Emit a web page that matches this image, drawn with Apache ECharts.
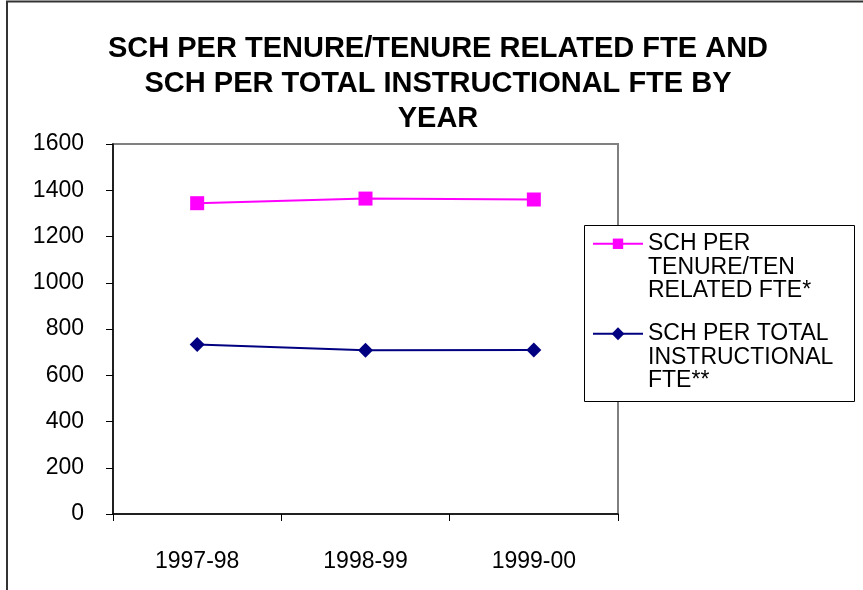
<!DOCTYPE html>
<html>
<head>
<meta charset="utf-8">
<script src="https://cdn.jsdelivr.net/npm/echarts@6/dist/echarts.min.js"></script>
<style>
html, body { margin: 0; padding: 0; background: #fff; }
#chart { width: 863px; height: 590px; }
</style>
</head>
<body>
<div id="chart"></div>
<script>
var years = ['1997-98', '1998-99', '1999-00'];
var tenureName = 'SCH PER\nTENURE/TEN\nRELATED FTE*';
var tenureValues = [1344, 1364, 1360];
var totalName = 'SCH PER TOTAL\nINSTRUCTIONAL\nFTE**';
var totalValues = [733, 708, 709];
var yTicks = { min: 0, max: 1600, interval: 200 };

var chartDom = document.getElementById('chart');
var myChart = echarts.init(chartDom);
var option;

var font = '"Liberation Sans", Arial, sans-serif';
var legendText = {
    fontFamily: font,
    fontSize: 23,
    lineHeight: 23.5,
    color: '#000'
};
// two blank lines on top so the icon lines up with the first text line
var legendFormatter = function (name) {
    return '\n\n' + name;
};

option = {
    animation: false,
    title: {
        text: 'SCH PER TENURE/TENURE RELATED FTE AND\nSCH PER TOTAL INSTRUCTIONAL FTE BY\nYEAR',
        left: 438,
        top: 31,
        padding: 0,
        textAlign: 'center',
        textStyle: {
            fontFamily: font,
            fontSize: 29,
            fontWeight: 'bold',
            lineHeight: 35,
            color: '#000'
        }
    },
    graphic: [
        {
            type: 'polyline',
            shape: { points: [[7, 590], [7, 1.5], [863, 1.5]] },
            style: { stroke: '#333', lineWidth: 2, fill: null }
        },
        {
            type: 'rect',
            shape: { x: 584.5, y: 225.5, width: 270, height: 176 },
            style: { stroke: '#000', lineWidth: 1, fill: '#fff' },
            z: 5
        }
    ],
    legend: [
        {
            data: [tenureName],
            left: 592,
            top: 185,
            padding: 0,
            itemWidth: 50,
            itemHeight: 13,
            formatter: legendFormatter,
            textStyle: legendText,
            z: 10
        },
        {
            data: [totalName],
            left: 592,
            top: 275,
            padding: 0,
            itemWidth: 50,
            itemHeight: 16,
            formatter: legendFormatter,
            textStyle: legendText,
            z: 10
        }
    ],
    grid: {
        left: 113,
        right: 245,
        top: 144,
        bottom: 76,
        show: true,
        borderColor: '#808080',
        borderWidth: 2,
        backgroundColor: '#fff'
    },
    xAxis: {
        type: 'category',
        data: years,
        boundaryGap: true,
        axisLine: { lineStyle: { color: '#000', width: 1.5 } },
        axisTick: { show: true, length: 7, lineStyle: { color: '#000' } },
        axisLabel: {
            fontFamily: font,
            fontSize: 23,
            color: '#000',
            margin: 36
        }
    },
    yAxis: {
        type: 'value',
        min: yTicks.min,
        max: yTicks.max,
        interval: yTicks.interval,
        splitLine: { show: false },
        axisLine: { show: true, lineStyle: { color: '#000', width: 1.5 } },
        axisTick: { show: true, length: 7, lineStyle: { color: '#000' } },
        axisLabel: {
            fontFamily: font,
            fontSize: 23,
            color: '#000',
            margin: 29,
            formatter: function (v) { return String(v); }
        }
    },
    series: [
        {
            name: tenureName,
            type: 'line',
            data: tenureValues,
            symbol: 'rect',
            symbolSize: 14,
            color: '#FF00FF',
            lineStyle: { color: '#FF00FF', width: 2 },
            itemStyle: { color: '#FF00FF' }
        },
        {
            name: totalName,
            type: 'line',
            data: totalValues,
            symbol: 'diamond',
            symbolSize: 15,
            color: '#000080',
            lineStyle: { color: '#000080', width: 2 },
            itemStyle: { color: '#000080' }
        }
    ]
};
option && myChart.setOption(option);
</script>
</body>
</html>
